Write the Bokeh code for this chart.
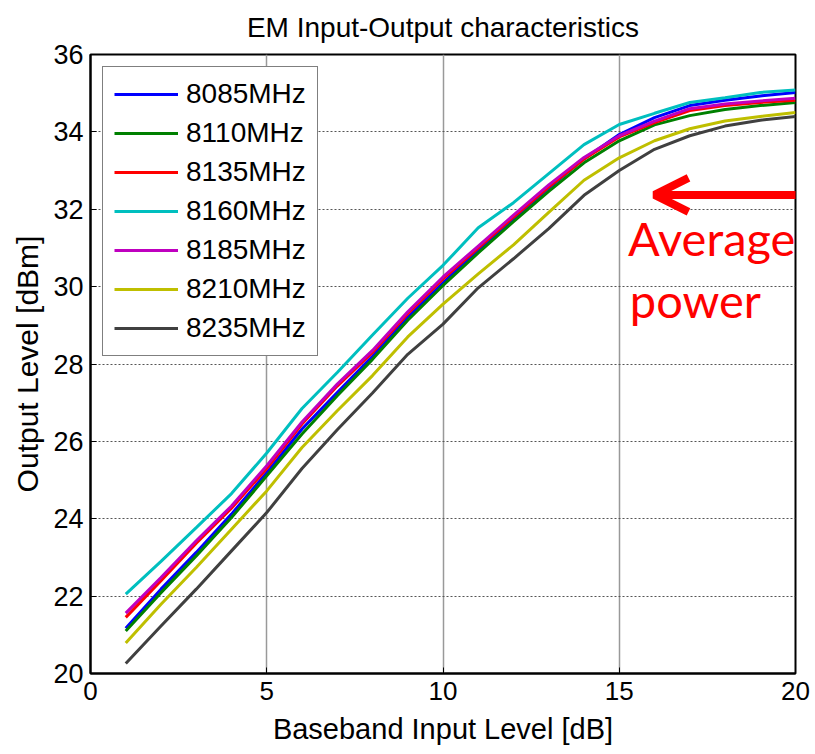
from bokeh.plotting import figure
from bokeh.models import Legend, LegendItem, Label, Arrow, OpenHead, Range1d, FixedTicker
from bokeh.core.properties import value
from bokeh.embed import file_html
from bokeh.resources import INLINE

x_input = list(range(1, 21))

freq_labels = ["8085MHz", "8110MHz", "8135MHz", "8160MHz", "8185MHz", "8210MHz", "8235MHz"]
colors = ["#0000FF", "#008000", "#FF0000", "#00BFBF", "#BF00BF", "#BFBF00", "#404040"]

out_8085 = [21.17, 22.18, 23.13, 24.12, 25.19, 26.32, 27.26, 28.20, 29.20, 30.10,
            30.95, 31.75, 32.55, 33.30, 33.93, 34.37, 34.68, 34.82, 34.93, 35.02]
out_8110 = [21.10, 22.09, 23.04, 24.03, 25.11, 26.19, 27.18, 28.12, 29.13, 30.03,
            30.87, 31.68, 32.46, 33.20, 33.77, 34.18, 34.42, 34.58, 34.68, 34.76]
out_8135 = [21.45, 22.40, 23.37, 24.27, 25.30, 26.45, 27.43, 28.30, 29.30, 30.20,
            31.00, 31.80, 32.58, 33.30, 33.87, 34.24, 34.55, 34.68, 34.76, 34.82]
out_8160 = [22.05, 22.90, 23.77, 24.65, 25.70, 26.85, 27.78, 28.75, 29.70, 30.55,
            31.52, 32.17, 32.92, 33.67, 34.19, 34.48, 34.76, 34.88, 35.02, 35.08]
out_8185 = [21.56, 22.48, 23.43, 24.33, 25.37, 26.50, 27.48, 28.35, 29.35, 30.25,
            31.05, 31.85, 32.63, 33.34, 33.90, 34.28, 34.60, 34.72, 34.80, 34.87]
out_8210 = [20.79, 21.79, 22.74, 23.73, 24.72, 25.84, 26.79, 27.70, 28.70, 29.55,
            30.33, 31.08, 31.92, 32.75, 33.33, 33.77, 34.08, 34.28, 34.40, 34.50]
out_8235 = [20.26, 21.23, 22.18, 23.17, 24.16, 25.30, 26.30, 27.25, 28.25, 29.03,
            29.97, 30.72, 31.50, 32.36, 33.00, 33.55, 33.90, 34.15, 34.30, 34.40]

series = [out_8085, out_8110, out_8135, out_8160, out_8185, out_8210, out_8235]

x_ticks = [0, 5, 10, 15, 20]
y_ticks = [20, 22, 24, 26, 28, 30, 32, 34, 36]

p = figure(width=815, height=754, output_backend="svg", toolbar_location=None,
           x_range=Range1d(0, 20), y_range=Range1d(20, 36),
           min_border_left=90, min_border_right=20, min_border_top=54, min_border_bottom=81,
           title="EM Input-Output characteristics")
p.background_fill_color = "white"
p.border_fill_color = "white"
p.outline_line_color = "black"
p.outline_line_width = 2

p.title.align = "center"
p.title.vertical_align = "top"
p.title.text_font = "Liberation Sans"
p.title.text_font_size = "28px"
p.title.text_font_style = "normal"
p.title.text_color = "black"
p.title.standoff = 20

for ax in (p.xaxis[0], p.yaxis[0]):
    ax.axis_line_color = "black"
    ax.axis_line_width = 2
    ax.major_tick_in = 6
    ax.major_tick_out = 0
    ax.minor_tick_line_color = None
    ax.major_tick_line_color = "black"
    ax.major_label_text_font = "Liberation Sans"
    ax.major_label_text_color = "black"
    ax.axis_label_text_font = "Liberation Sans"
    ax.axis_label_text_font_style = "normal"
    ax.axis_label_text_color = "black"

p.xaxis.ticker = FixedTicker(ticks=x_ticks)
p.yaxis.ticker = FixedTicker(ticks=y_ticks)
p.xaxis.major_label_text_font_size = "26px"
p.yaxis.major_label_text_font_size = "27px"
p.xaxis.major_label_standoff = 8
p.yaxis.major_label_standoff = 7
p.xaxis.axis_label = "Baseband Input Level [dB]"
p.yaxis.axis_label = "Output Level [dBm]"
p.xaxis.axis_label_text_font_size = "29px"
p.yaxis.axis_label_text_font_size = "30px"
p.xaxis.axis_label_standoff = 10
p.yaxis.axis_label_standoff = 6

p.ygrid.grid_line_color = "#555555"
p.ygrid.grid_line_dash = "2 2"
p.ygrid.grid_line_width = 1
p.xgrid.grid_line_color = "#999999"
p.xgrid.grid_line_width = 1.5

items = []
for lab, col, ys in zip(freq_labels, colors, series):
    r = p.line(x_input, ys, line_color=col, line_width=3)
    items.append(LegendItem(label=lab, renderers=[r]))

legend = Legend(items=items, location="top_left", margin=12, padding=11,
                spacing=7, label_height=32, glyph_height=32, glyph_width=64,
                label_standoff=8, label_text_font="Liberation Sans",
                label_text_font_size="28px", label_text_color="black",
                border_line_color="black", border_line_width=1.5,
                background_fill_color="white", background_fill_alpha=1.0)
p.add_layout(legend)

arrow = Arrow(end=OpenHead(size=34, line_color="#FF0000", line_width=8),
              x_start=20.7, y_start=32.37, x_end=16.0, y_end=32.37,
              line_color="#FF0000", line_width=8)
p.add_layout(arrow)

lab1 = Label(x=15.25, y=31.25, text="Average", text_color="#FF0000",
             text_font="Lato", text_font_size="47px", text_baseline="alphabetic")
lab2 = Label(x=15.3, y=29.66, text="power", text_color="#FF0000",
             text_font="Lato", text_font_size="47px", text_baseline="alphabetic")
p.add_layout(lab1)
p.add_layout(lab2)

open("out.html", "w").write(file_html(p, INLINE))
